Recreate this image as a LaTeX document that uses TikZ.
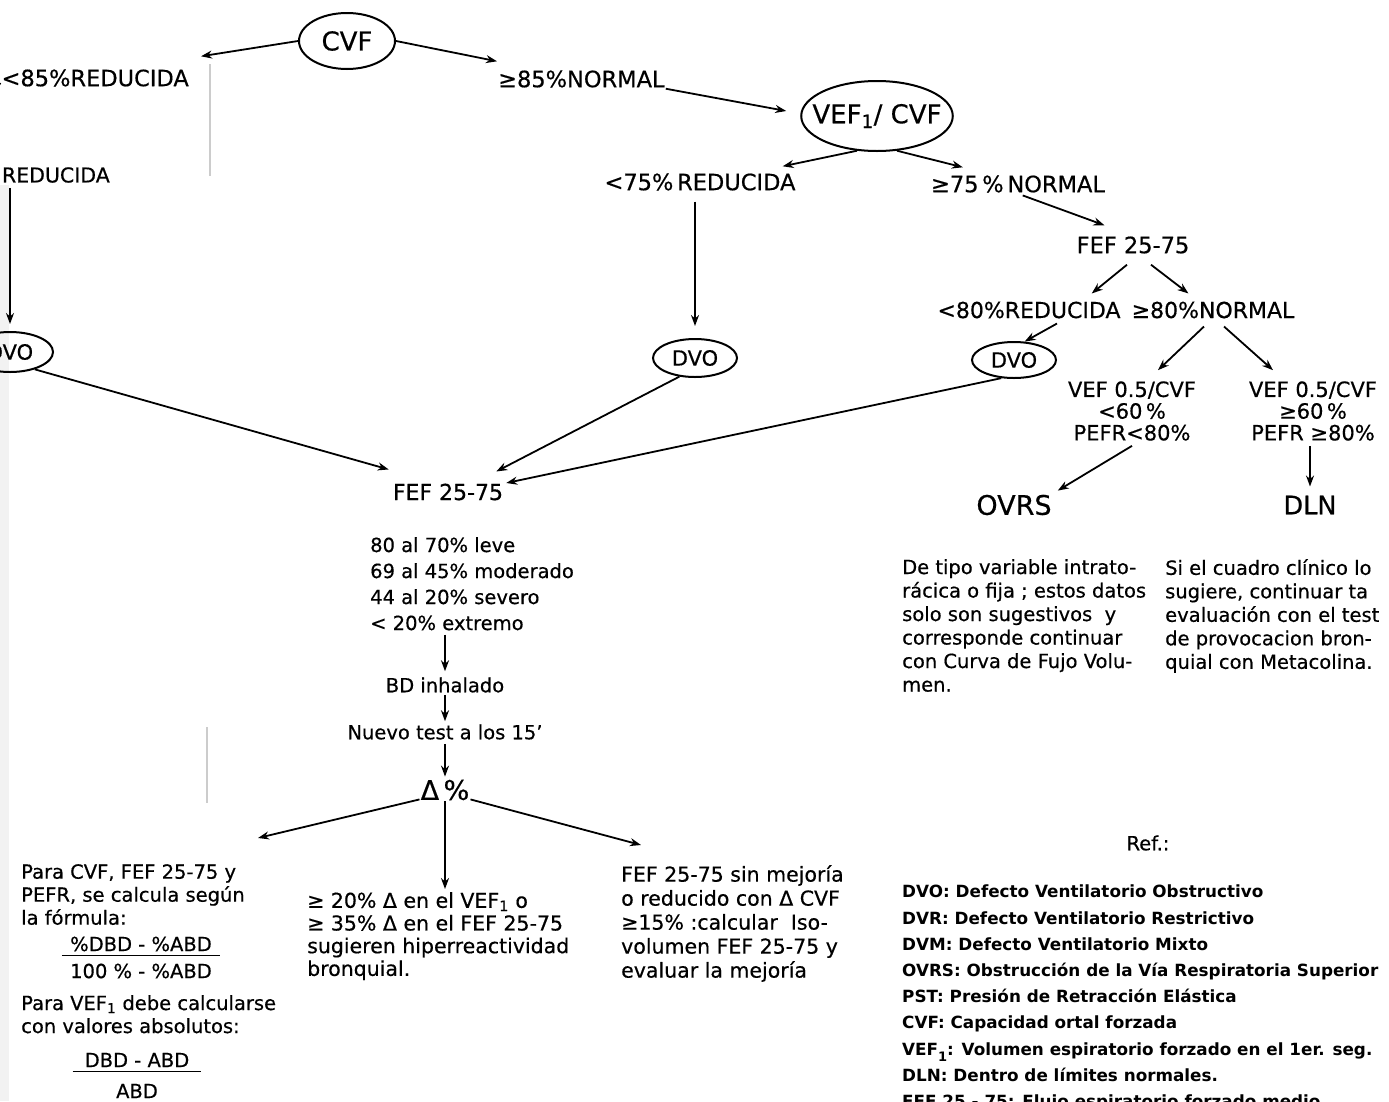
\documentclass[tikz,border=0pt]{standalone}
\usepackage{fontspec}
\setmainfont{DejaVu Sans}[UprightFeatures={FakeBold=0.5}]
\usetikzlibrary{shapes.geometric, arrows.meta}
\tikzstyle{flow} = [line width=1.8pt,-{Stealth[length=11pt,width=8pt]}]
\tikzstyle{ovalbox} = [draw,line width=2pt,ellipse,inner sep=0pt]
\tikzstyle{lbl} = [inner sep=1pt,font=\fontsize{22.5}{26}\selectfont]
\tikzstyle{txt} = [inner sep=0pt,align=left,font=\fontsize{19.5}{23.5}\selectfont]
\tikzstyle{bar} = [line width=1.6pt]
\tikzstyle{scan} = [gray!40,line width=1.4pt]

\begin{document}
\begin{tikzpicture}[x=1pt,y=-1pt]
\useasboundingbox (0,0) rectangle (1389,1101);
\clip (0,0) rectangle (1389,1101);

%page edge and fold marks of the scan
\fill[gray!10] (0,185) rectangle (9,1101);
\draw[scan] (210,64) -- (210,176);
\draw[scan] (207,727) -- (207,803);

%first level: CVF
\node[ovalbox,minimum width=96,minimum height=56,font=\fontsize{26}{30}\selectfont] (cvf) at (347,41) {CVF};
\node[lbl,anchor=east] (red85) at (190,78) {<85\%REDUCIDA};
\node[lbl,anchor=west] (nor85) at (497,79) {≥85\%NORMAL};
\coordinate (cut) at (-8,97);

%left column, cut at the edge of the page
\node[lbl,anchor=east,font=\fontsize{20.5}{24}\selectfont] (redl) at (111,175) {\%\,REDUCIDA};
\node[ovalbox,minimum width=86,minimum height=40,font=\fontsize{21}{25}\selectfont] (dvol) at (10,352) {DVO};

%VEF1/CVF
\node[ovalbox,inner xsep=-11pt,inner ysep=12pt,minimum width=151,minimum height=70,font=\fontsize{26}{30}\selectfont] (vef) at (877,116) {VEF\textsubscript{1}/ CVF};
\node[lbl] (red75) at (700,182) {<75\%\,REDUCIDA};
\node[lbl] (nor75) at (1018,184) {≥75\,\%\,NORMAL};
\node[ovalbox,minimum width=84,minimum height=38,font=\fontsize{21}{25}\selectfont] (dvom) at (695,358) {DVO};

%FEF 25-75 when VEF1/CVF is normal
\node[lbl] (fefr) at (1133,245) {FEF 25-75};
\node[lbl,font=\fontsize{22}{26}\selectfont] (red80) at (1029,310) {<80\%REDUCIDA};
\node[lbl,font=\fontsize{22}{26}\selectfont] (nor80) at (1213,310) {≥80\%NORMAL};
\node[ovalbox,minimum width=84,minimum height=36,font=\fontsize{21}{25}\selectfont] (dvor) at (1014,360) {DVO};
\node[lbl,align=center,font=\fontsize{21}{21.7}\selectfont] (vl) at (1132,411) {VEF 0.5/CVF\\<60\,\%\\PEFR<80\%};
\node[lbl,align=center,font=\fontsize{21}{21.7}\selectfont] (vr) at (1313,411) {VEF 0.5/CVF\\≥60\,\%\\PEFR ≥80\%};
\node[lbl,font=\fontsize{27}{30}\selectfont] (ovrs) at (1014,505) {OVRS};
\node[lbl,font=\fontsize{25.5}{30}\selectfont] (dln) at (1310,505) {DLN};
\node[txt,anchor=north west] (notel) at (902,559) {De tipo variable intrato-\\rácica o fija ; estos datos\\solo son sugestivos \ y\\corresponde continuar\\con Curva de Fujo Volu-\\men.};
\node[txt,anchor=north west] (noter) at (1165,559) {Si el cuadro clínico lo\\sugiere, continuar ta\\evaluación con el test\\de provocacion bron-\\quial con Metacolina.};

%severity and bronchodilator test
\node[lbl,font=\fontsize{22}{26}\selectfont] (fefm) at (448,492) {FEF 25-75};
\node[txt,anchor=north west,font=\fontsize{19.5}{26}\selectfont] (grades) at (370,537) {80 al 70\% leve\\69 al 45\% moderado\\44 al 20\% severo\\< 20\% extremo};
\node[txt] (bd) at (445,685) {BD inhalado};
\node[txt] (nuevo) at (445,732) {Nuevo test a los 15'};
\node[lbl,font=\fontsize{27}{30}\selectfont] (delta) at (445,790) {Δ\,\%};

%results of the test
\node[txt,anchor=north west,font=\fontsize{19.5}{23}\selectfont] (pl1) at (21,864) {Para CVF, FEF 25-75 y\\PEFR, se calcula según\\la fórmula:};
\node[txt] (f1num) at (141,944) {\%DBD - \%ABD};
\node[txt] (f1den) at (141,971) {100 \% - \%ABD};
\node[txt,anchor=north west,font=\fontsize{19.5}{23}\selectfont] (pl2) at (21,995) {Para VEF\textsubscript{1} debe calcularse\\con valores absolutos:};
\node[txt] (f2num) at (137,1060) {DBD - ABD};
\node[txt] (f2den) at (137,1091) {ABD};
\node[txt,anchor=north west,font=\fontsize{20.5}{22.7}\selectfont] (mid) at (307,892) {≥ 20\% Δ en el VEF\textsubscript{1} o\\≥ 35\% Δ en el FEF 25-75\\sugieren hiperreactividad\\bronquial.};
\node[txt,anchor=north west,font=\fontsize{20.5}{24}\selectfont] (rightn) at (621,865) {FEF 25-75 sin mejoría\\o reducido con Δ CVF\\≥15\% :calcular \ Iso-\\volumen FEF 25-75 y\\evaluar la mejoría};

%abbreviations
\node[txt] (ref) at (1148,843) {Ref.:};
\node[txt,anchor=north west,font=\bfseries\fontsize{16.8}{26.2}\selectfont] (abbr) at (902,885) {DVO: Defecto Ventilatorio Obstructivo\\DVR: Defecto Ventilatorio Restrictivo\\DVM: Defecto Ventilatorio Mixto\\OVRS: Obstrucción de la Vía Respiratoria Superior\\PST: Presión de Retracción Elástica\\CVF: Capacidad ortal forzada\\VEF\raisebox{-6pt}{\fontsize{13}{13}\selectfont 1}: Volumen espiratorio forzado en el 1er. seg.\\DLN: Dentro de límites normales.\\FEF 25 - 75: Flujo espiratorio forzado medio};

%connectors
\draw[line width=1.5pt] (cut) -- ([yshift=-5pt]red85.west);
\draw[flow] (cvf.west) -- ([xshift=11pt,yshift=12pt]red85.north east);
\draw[flow] (cvf.east) -- ([yshift=8pt]nor85.north west);
\draw[flow] (nor85.south east) -- ([xshift=-14pt,yshift=5pt]vef.west);
\draw[flow] (vef.240) -- ([xshift=-14pt,yshift=6pt]red75.north east);
\draw[flow] (vef.300) -- ([xshift=33pt,yshift=7pt]nor75.north west);
\draw[flow,shorten <=5pt] (nor75.south) -- ([xshift=29pt,yshift=10pt]fefr.north west);
\draw[flow] ([xshift=-6pt,yshift=-10pt]fefr.south) -- ([xshift=-30pt,yshift=7pt]red80.north east);
\draw[flow] ([xshift=18pt,yshift=-10pt]fefr.south) -- ([xshift=58pt,yshift=7pt]nor80.north west);
\draw[flow] ([xshift=28pt,yshift=-4pt]red80.south) -- (dvor.60);
\draw[flow] ([xshift=-9pt,yshift=-7pt]nor80.south) -- ([xshift=26pt,yshift=10pt]vl.north);
\draw[flow] ([xshift=11pt,yshift=-7pt]nor80.south) -- ([xshift=-40pt,yshift=10pt]vr.north);
\draw[flow] ([yshift=-4pt]vl.south) -- ([xshift=5pt,yshift=3pt]ovrs.north east);
\draw[flow,shorten <=4pt,shorten >=8pt] (dln.north |- vr.south) -- (dln.north);
\draw[flow,shorten <=10pt,shorten >=12pt] (dvom.north |- red75.south) -- (dvom.north);
\draw[flow,shorten <=4pt,shorten >=7pt] (dvol.north |- redl.south) -- (dvol.north);
\draw[flow] (dvol.-35) -- ([xshift=-3pt,yshift=13pt]fefm.north west);
\draw[flow] (dvom.230) -- ([xshift=-8pt,yshift=11pt]fefm.north east);
\draw[flow] (dvor.235) -- ([xshift=2pt,yshift=9pt]fefm.east);
\draw[flow,shorten <=4pt,shorten >=6pt] (bd.north |- grades.south) -- (bd.north);
\draw[flow,shorten <=2pt,shorten >=3pt] (bd.south) -- (nuevo.north);
\draw[flow,shorten <=4pt,shorten >=2pt] (nuevo.south) -- (delta.north);
\draw[flow] ([yshift=2pt]delta.south west) -- ([xshift=13pt,yshift=26pt]pl1.north east);
\draw[flow,shorten >=3pt] (delta.south) -- (delta.south |- mid.north);
\draw[flow] ([yshift=2pt]delta.south east) -- ([xshift=20pt,yshift=20pt]rightn.north west);
\draw[bar] ([xshift=-8pt,yshift=-4pt]f1num.south west) -- ([xshift=8pt,yshift=-4pt]f1num.south east);
\draw[bar] ([xshift=-12pt,yshift=-4pt]f2num.south west) -- ([xshift=12pt,yshift=-4pt]f2num.south east);

\end{tikzpicture}
\end{document}
